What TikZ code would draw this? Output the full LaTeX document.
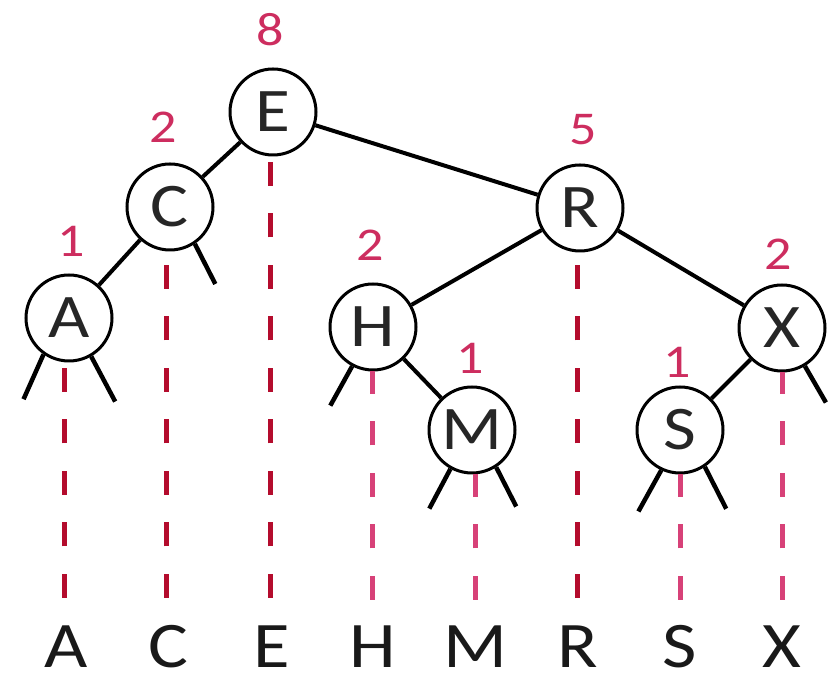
\documentclass[tikz,border=0pt]{standalone}
\usepackage{fontspec}
\setmainfont{Carlito}[FakeStretch=1.15]
\definecolor{sizered}{RGB}{205,45,95}
\definecolor{rankdark}{RGB}{180,12,45}
\definecolor{rankpink}{RGB}{215,65,120}
\begin{document}
\begin{tikzpicture}[x=1pt,y=1pt,
  treekey/.style={circle, draw=black, line width=3pt, fill=white,
    minimum size=86pt, inner sep=0pt, text=black!85,
    font=\fontsize{62}{62}\selectfont},
  treeedge/.style={line width=4pt},
  nullstub/.style={line width=4.5pt},
  sizetag/.style={inner sep=0pt, text=sizered, font=\fontsize{47}{47}\selectfont},
  sortedkey/.style={inner sep=0pt, text=black!90, font=\fontsize{65}{65}\selectfont},
  rankline/.style={line width=5pt, dash pattern=on 24pt off 27.5pt},
]
\useasboundingbox (0,0) rectangle (830,684);

% tree nodes
\node[treekey] (E) at (273,572) {E};
\node[treekey] (C) at (170,477) {C};
\node[treekey] (A) at (69,366) {A};
\node[treekey] (R) at (580,476) {R};
\node[treekey] (H) at (373,357) {H};
\node[treekey] (X) at (782,356) {X};
\node[treekey] (M) at (472,254) {M};
\node[treekey] (S) at (680,254) {S};

% subtree sizes
\node[sizetag] (nE) at (270,654) {8};
\node[sizetag] (nC) at (163,557) {2};
\node[sizetag] (nA) at (71,443) {1};
\node[sizetag] (nR) at (583,554) {5};
\node[sizetag] (nH) at (370,439) {2};
\node[sizetag] (nX) at (778,430) {2};
\node[sizetag] (nM) at (470,326) {1};
\node[sizetag] (nS) at (677,322) {1};

% links
\draw[treeedge] (E) -- (C);
\draw[treeedge] (C) -- (A);
\draw[treeedge] (E) -- (R);
\draw[treeedge] (R) -- (H);
\draw[treeedge] (R) -- (X);
\draw[treeedge] (H) -- (M);
\draw[treeedge] (X) -- (S);

% null links
\draw[nullstub] (A.-125) -- ++(-114:49);
\draw[nullstub] (A.-60)  -- ++(-62:51);
\draw[nullstub] (C.-56)  -- ++(-63:45);
\draw[nullstub] (H.-118) -- ++(-119:45);
\draw[nullstub] (M.-119) -- ++(-118:45);
\draw[nullstub] (M.-57)  -- ++(-63:44);
\draw[nullstub] (S.-115) -- ++(-119:47);
\draw[nullstub] (S.-56)  -- ++(-63:47);
\draw[nullstub] (X.-59)  -- ++(-60:42);

% keys in sorted order
\node[sortedkey] (kA) at (66,37) {A};
\node[sortedkey] (kC) at (168,37) {C};
\node[sortedkey] (kE) at (272,37) {E};
\node[sortedkey] (kH) at (373,37) {H};
\node[sortedkey] (kM) at (475,37) {M};
\node[sortedkey] (kR) at (578,37) {R};
\node[sortedkey] (kS) at (680,37) {S};
\node[sortedkey] (kX) at (782,37) {X};

% projection lines
\coordinate (bA) at (64,86);
\coordinate (bC) at (166,86);
\coordinate (bE) at (270,86);
\coordinate (bH) at (372,84);
\coordinate (bM) at (475,84);
\coordinate (bR) at (577,86);
\coordinate (bS) at (680,84);
\coordinate (bX) at (782,84);
\draw[rankline, rankdark] (bA) -- (bA |- A.south);
\draw[rankline, rankdark] (bC) -- (bC |- C.south);
\draw[rankline, rankdark] (bE) -- (bE |- E.south);
\draw[rankline, rankdark] (bR) -- (bR |- R.south);
\draw[rankline, rankpink] (bH) -- (bH |- H.south);
\draw[rankline, rankpink] (bM) -- (bM |- M.south);
\draw[rankline, rankpink] (bS) -- (bS |- S.south);
\draw[rankline, rankpink] (bX) -- (bX |- X.south);
\end{tikzpicture}
\end{document}
